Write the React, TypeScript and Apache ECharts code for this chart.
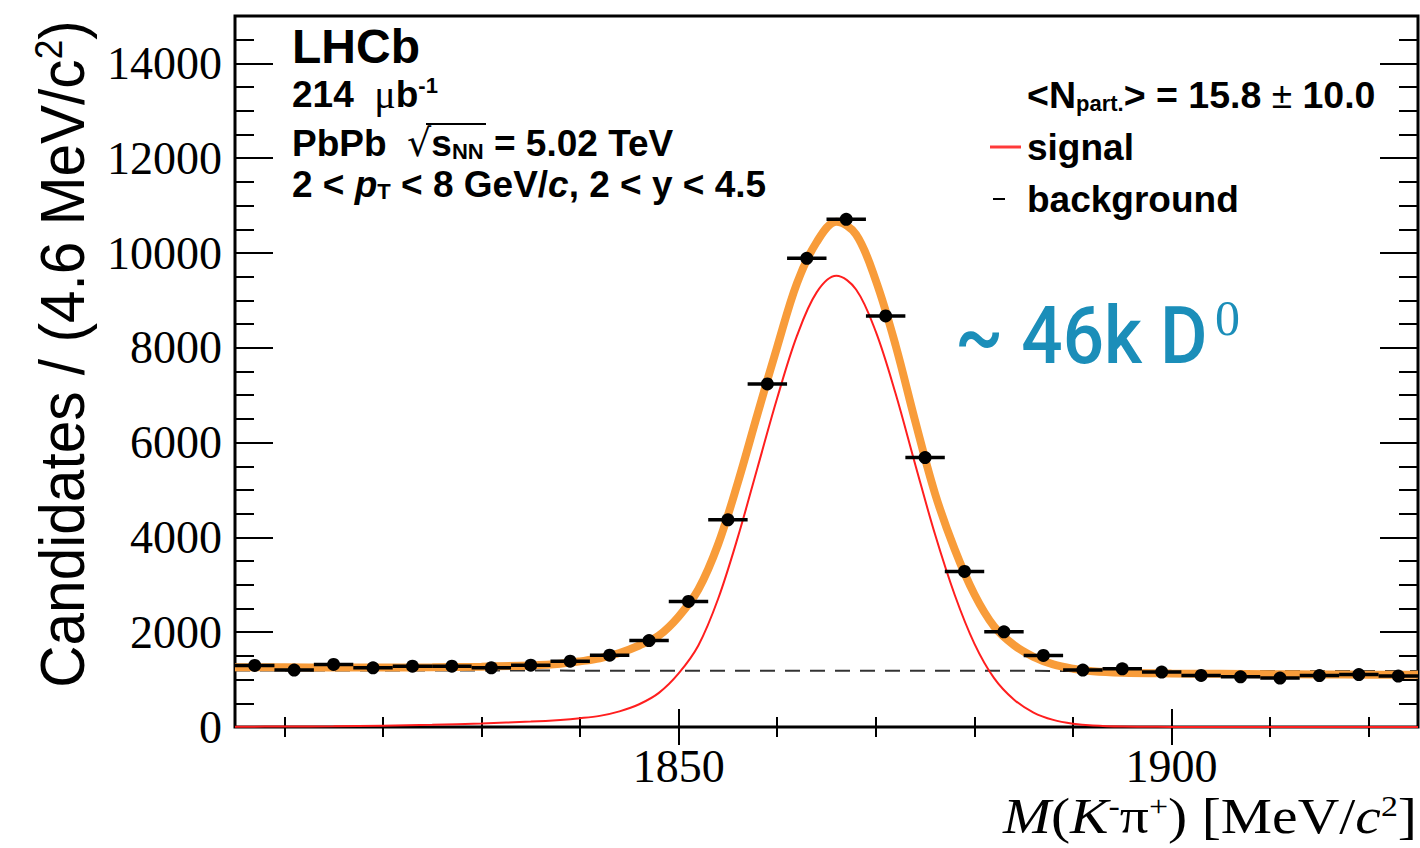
import React, { useEffect, useRef } from 'react';
import * as echarts from 'echarts';

// ---- data ----
const binCenters = [1807, 1811, 1815, 1819, 1823, 1827, 1831, 1835, 1839, 1843, 1847, 1851, 1855, 1859, 1863, 1867, 1871, 1875, 1879, 1883, 1887, 1891, 1895, 1899, 1903, 1907, 1911, 1915, 1919, 1923];
const candidates = [1298, 1200, 1319, 1249, 1284, 1284, 1249, 1305, 1389, 1516, 1824, 2648, 4371, 7237, 9888, 10711, 8672, 5684, 3281, 2007, 1509, 1200, 1228, 1158, 1088, 1060, 1032, 1085, 1105, 1075];
const BIN_WIDTH = 4;

const fitMass = [1805, 1810, 1815, 1820, 1825, 1830, 1835, 1838, 1840, 1842, 1844, 1846, 1848, 1850, 1852, 1854, 1856, 1858, 1860, 1862, 1864, 1866, 1868, 1870, 1872, 1874, 1876, 1878, 1880, 1882, 1884, 1886, 1888, 1890, 1892, 1895, 1900, 1905, 1910, 1915, 1920, 1925];
const totalFit = [1262, 1258, 1255, 1255, 1260, 1272, 1300, 1335, 1385, 1450, 1560, 1720, 1930, 2330, 2900, 3850, 5150, 6600, 8020, 9360, 10230, 10660, 10390, 9420, 8060, 6450, 4930, 3750, 2800, 2120, 1730, 1480, 1320, 1230, 1175, 1145, 1130, 1122, 1115, 1108, 1103, 1100];
const signalFit = [5, 10, 16, 28, 45, 75, 115, 150, 185, 235, 330, 480, 720, 1130, 1720, 2700, 4000, 5470, 6940, 8250, 9170, 9520, 9230, 8340, 7040, 5540, 4070, 2790, 1760, 1030, 580, 305, 150, 70, 30, 8, 2, 0, 0, 0, 0, 0];
const bgMass = [1805, 1925];
const bgLevel = [1193, 1180];

const X_MIN = 1805;
const X_MAX = 1925;
const Y_MIN = 0;
const Y_MAX = 15000;
const xMajorTicks = [1850, 1900];
const xMinorTicks = [1810, 1820, 1830, 1840, 1860, 1870, 1880, 1890, 1910, 1920];
const yMajorTicks = [0, 2000, 4000, 6000, 8000, 10000, 12000, 14000];
const yMinorTicks = [500, 1000, 1500, 2500, 3000, 3500, 4500, 5000, 5500, 6500, 7000, 7500, 8500, 9000, 9500, 10500, 11000, 11500, 12500, 13000, 13500, 14500];

const SANS = 'Liberation Sans';
const SERIF = 'Liberation Serif';
const TEAL = '#1B8EB9';

function App() {
  const ref = useRef<HTMLDivElement>(null);
  useEffect(() => {
    if (!ref.current) return;
    const chart = echarts.init(ref.current, undefined, { renderer: 'svg' });
    const gridBox = { left: 235, top: 16, width: 1183, height: 711 };
    const tickStyle = { color: '#000', width: 2 };
    const plain = (v: number) => String(v);
    const xAxisBase = (gridIndex: number, position: string, ticks: number[], len: number, labels: boolean) => ({
      type: 'value', gridIndex, position, min: X_MIN, max: X_MAX,
      axisLine: { show: false },
      splitLine: { show: false },
      axisTick: { show: true, inside: true, length: len, customValues: ticks, lineStyle: tickStyle },
      axisLabel: labels
        ? { show: true, customValues: ticks, formatter: plain, fontFamily: SERIF, fontSize: 46, color: '#000', margin: 16 }
        : { show: false },
    });
    const yAxisBase = (gridIndex: number, position: string, ticks: number[], len: number, labels: boolean) => ({
      type: 'value', gridIndex, position, min: Y_MIN, max: Y_MAX,
      axisLine: { show: false },
      splitLine: { show: false },
      axisTick: { show: true, inside: true, length: len, customValues: ticks, lineStyle: tickStyle },
      axisLabel: labels
        ? { show: true, customValues: ticks, formatter: plain, fontFamily: SERIF, fontSize: 46, color: '#000', margin: 13 }
        : { show: false },
    });

    const bold = (size: number) => ({ fontFamily: SANS, fontWeight: 'bold', fontSize: size, fill: '#000' });
    const txt = (x: number, y: number, text: string, size: number, rich: any = undefined, extra: any = {}) => ({
      type: 'text', x, y, z: 20,
      style: {
        text, ...bold(size), rich,
        align: 'left', textAlign: 'left', verticalAlign: 'middle', textVerticalAlign: 'middle', ...extra,
      },
    });
    const supB = { fontFamily: SANS, fontWeight: 'bold', fontSize: 22, verticalAlign: 'top' };
    const subB = { fontFamily: SANS, fontWeight: 'bold', fontSize: 22, verticalAlign: 'bottom' };

    chart.setOption({
      animation: false,
      backgroundColor: '#fff',
      grid: [
        { ...gridBox, show: true, borderColor: '#000', borderWidth: 3, backgroundColor: 'transparent' },
        { ...gridBox, show: false },
      ],
      xAxis: [
        xAxisBase(0, 'bottom', xMajorTicks, 18, true),
        xAxisBase(0, 'top', xMajorTicks, 18, false),
        xAxisBase(1, 'bottom', xMinorTicks, 10, false),
        xAxisBase(1, 'top', xMinorTicks, 10, false),
      ],
      yAxis: [
        yAxisBase(0, 'left', yMajorTicks, 38, true),
        yAxisBase(0, 'right', yMajorTicks, 38, false),
        yAxisBase(1, 'left', yMinorTicks, 19, false),
        yAxisBase(1, 'right', yMinorTicks, 19, false),
      ],
      series: [
        {
          name: 'background', type: 'line', xAxisIndex: 0, yAxisIndex: 0, z: 2,
          data: bgMass.map((m, i) => [m, bgLevel[i]]),
          symbol: 'none',
          lineStyle: { color: '#333', width: 2, type: [15, 10] },
        },
        {
          name: 'total', type: 'line', xAxisIndex: 0, yAxisIndex: 0, z: 3,
          data: fitMass.map((m, i) => [m, totalFit[i]]),
          symbol: 'none', smooth: 0.35,
          lineStyle: { color: '#F89C3A', width: 8 },
        },
        {
          name: 'signal', type: 'line', xAxisIndex: 0, yAxisIndex: 0, z: 4,
          data: fitMass.map((m, i) => [m, signalFit[i]]),
          symbol: 'none', smooth: 0.35,
          lineStyle: { color: '#FF1E1E', width: 2 },
        },
        {
          name: 'data', type: 'custom', xAxisIndex: 0, yAxisIndex: 0, z: 5,
          data: binCenters.map((m, i) => [m, candidates[i]]),
          renderItem: (params: any, api: any) => {
            const x = api.value(0);
            const y = api.value(1);
            const c = api.coord([x, y]);
            const l = api.coord([x - BIN_WIDTH / 2, y]);
            const r = api.coord([x + BIN_WIDTH / 2, y]);
            return {
              type: 'group',
              children: [
                { type: 'line', shape: { x1: l[0], y1: l[1], x2: r[0], y2: r[1] }, style: { stroke: '#000', lineWidth: 3.5 } },
                { type: 'circle', shape: { cx: c[0], cy: c[1], r: 6.5 }, style: { fill: '#000' } },
              ],
            };
          },
        },
      ],
      graphic: [
        txt(292, 46, 'LHCb', 48),
        txt(292, 94, '214  {mu|μ}b{sup|-1}', 37, {
          mu: { fontFamily: SERIF, fontWeight: 'normal', fontSize: 40 },
          sup: supB,
        }),
        txt(292, 143, 'PbPb  {rt|√}s{sub|NN} = 5.02 TeV', 37, {
          rt: { fontFamily: 'DejaVu Sans', fontWeight: 'normal', fontSize: 38 },
          sub: subB,
        }),
        { type: 'line', z: 20, shape: { x1: 426, y1: 124, x2: 486, y2: 124 }, style: { stroke: '#000', lineWidth: 2 } },
        txt(292, 184, '2 < {it|p}{sub|T} < 8 GeV/{it|c}, 2 < y < 4.5', 37, {
          it: { fontFamily: SANS, fontWeight: 'bold', fontStyle: 'italic', fontSize: 37 },
          sub: subB,
        }),
        txt(1027, 95, '<N{sub|part.}> = 15.8 {pm|±} 10.0', 37.5, {
          sub: subB,
          pm: { fontFamily: SANS, fontWeight: 'normal', fontSize: 37 },
        }),
        { type: 'line', z: 20, shape: { x1: 990, y1: 147, x2: 1021, y2: 147 }, style: { stroke: '#FF3A3A', lineWidth: 3 } },
        txt(1027, 147, 'signal', 37),
        { type: 'line', z: 20, shape: { x1: 993, y1: 199, x2: 1005, y2: 199 }, style: { stroke: '#000', lineWidth: 2 } },
        txt(1027, 199, 'background', 37),
        {
          type: 'text', x: 955, y: 336, z: 20, scaleX: 0.91,
          style: {
            text: '~ 46k D', fontFamily: 'Roboto', fontWeight: 500, fontSize: 80, fill: TEAL,
            align: 'left', textAlign: 'left', verticalAlign: 'middle', textVerticalAlign: 'middle',
          },
        },
        {
          type: 'text', x: 1215, y: 318, z: 20,
          style: {
            text: '0', fontFamily: SERIF, fontSize: 50, fill: TEAL,
            align: 'left', textAlign: 'left', verticalAlign: 'middle', textVerticalAlign: 'middle',
          },
        },
        {
          type: 'text', x: 62, y: 354, z: 20, rotation: Math.PI / 2, scaleX: 0.93,
          style: {
            text: 'Candidates / (4.6 MeV/c{sup|2})', fontFamily: SANS, fontSize: 63, fill: '#000',
            align: 'center', textAlign: 'center', verticalAlign: 'middle', textVerticalAlign: 'middle',
            rich: { sup: { fontFamily: SANS, fontSize: 38, verticalAlign: 'top' } },
          },
        },
        {
          type: 'text', x: 1417, y: 816, z: 20, scaleX: 1.13,
          style: {
            text: '{it|M}({it|K}{sup|-}π{sup|+}) [MeV/{it|c}{sup|2}]', fontFamily: SERIF, fontSize: 51, fill: '#000',
            align: 'right', textAlign: 'right', verticalAlign: 'middle', textVerticalAlign: 'middle',
            rich: {
              it: { fontFamily: SERIF, fontStyle: 'italic', fontSize: 51 },
              sup: { fontFamily: SERIF, fontSize: 30, verticalAlign: 'top' },
            },
          },
        },
      ],
    });
    return () => chart.dispose();
  }, []);
  return <div ref={ref} style={{ position: 'absolute', left: 0, top: 0, width: 1420, height: 848 }} />;
}

export default App;
